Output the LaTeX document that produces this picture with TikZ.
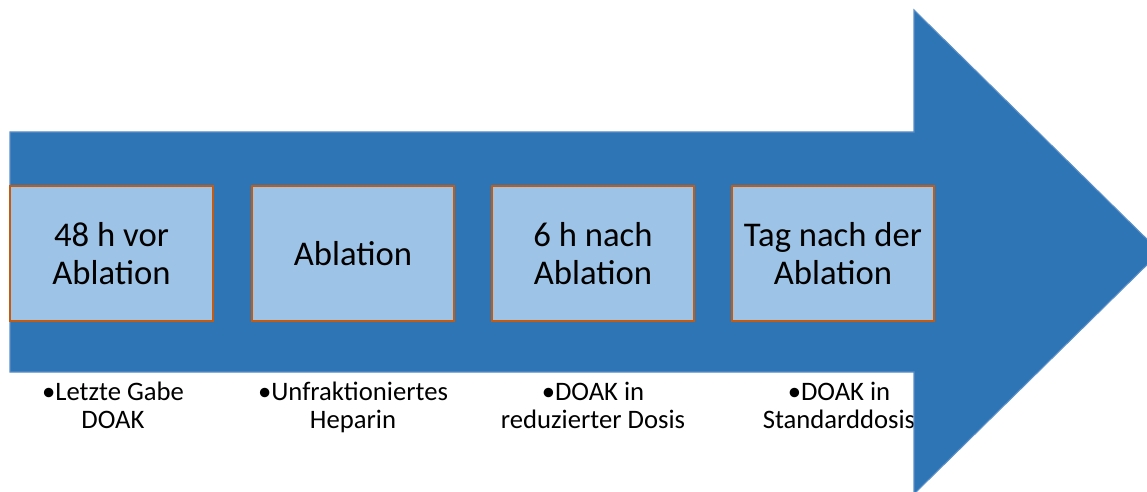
\documentclass[tikz,border=0pt]{standalone}
\usepackage{fontspec}
\setmainfont{Carlito}
\definecolor{arrowblue}{HTML}{2E75B6}
\definecolor{arrowedge}{HTML}{5B8FC8}
\definecolor{boxfill}{HTML}{9DC3E6}
\definecolor{boxedge}{HTML}{C55A11}
\begin{document}
\begin{tikzpicture}[x=0.75pt,y=-0.75pt,
  phase/.style={draw=boxedge,line width=1.5pt,fill=boxfill,minimum width=152pt,minimum height=101pt,
    inner sep=0pt,align=center,font=\fontsize{26}{28}\selectfont},
  note/.style={align=center,inner sep=0pt,font=\fontsize{20}{21}\selectfont}]
\useasboundingbox (0,0) rectangle (1147,492);
% labels under the arrow (base anchor sits on the last line)
\node[note,anchor=base] (t1) at (113,428) {•Letzte Gabe\\DOAK};
\node[note,anchor=base] (t2) at (353,428) {•Unfraktioniertes\\Heparin};
\node[note,anchor=base] (t3) at (593,428) {•DOAK in\\reduzierter Dosis};
\node[note,anchor=base] (t4) at (839,428) {•DOAK in\\Standarddosis};
% the timeline arrow
\fill[arrowblue,draw=arrowedge,line width=0.8pt]
  (10,132) -- (914,132) -- (914,10) -- (1160,252) -- (914,494) -- (914,372) -- (10,372) -- cycle;
% phases
\node[phase] (b1) at (111.5,253.5) {48 h vor\\Ablation};
\node[phase] (b2) at (353,253.5) {Ablation};
\node[phase] (b3) at (593,253.5) {6 h nach\\Ablation};
\node[phase] (b4) at (833,253.5) {Tag nach der\\Ablation};
\end{tikzpicture}
\end{document}
